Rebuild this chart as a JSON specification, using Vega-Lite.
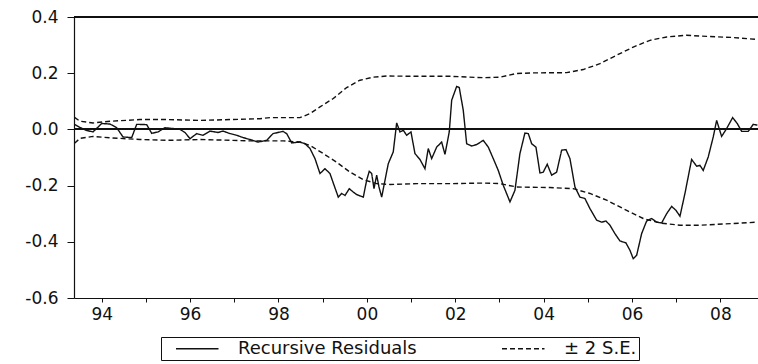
{
  "$schema": "https://vega.github.io/schema/vega-lite/v6.json",
  "width": 684,
  "height": 281,
  "autosize": "none",
  "padding": {"left": 74, "top": 17, "right": 0, "bottom": 66},
  "background": "white",
  "config": {
    "view": {"stroke": null},
    "axis": {
      "domainColor": "#111",
      "tickColor": "#111",
      "labelColor": "#111",
      "labelFont": "DejaVu Sans",
      "labelFontSize": 17,
      "grid": false,
      "title": null,
      "domainWidth": 1.2,
      "tickWidth": 1
    },
    "legend": {
      "labelFont": "DejaVu Sans",
      "labelFontSize": 18,
      "labelColor": "#111",
      "labelLimit": 0
    }
  },
  "data": {
    "values": [
      {"t":1993.385,"v":0.018,"series":"Recursive Residuals","part":"res"},
      {"t":1993.509,"v":0.007,"series":"Recursive Residuals","part":"res"},
      {"t":1993.645,"v":-0.003,"series":"Recursive Residuals","part":"res"},
      {"t":1993.803,"v":-0.009,"series":"Recursive Residuals","part":"res"},
      {"t":1994.000,"v":0.021,"series":"Recursive Residuals","part":"res"},
      {"t":1994.188,"v":0.019,"series":"Recursive Residuals","part":"res"},
      {"t":1994.339,"v":0.006,"series":"Recursive Residuals","part":"res"},
      {"t":1994.482,"v":-0.027,"series":"Recursive Residuals","part":"res"},
      {"t":1994.679,"v":-0.029,"series":"Recursive Residuals","part":"res"},
      {"t":1994.792,"v":0.018,"series":"Recursive Residuals","part":"res"},
      {"t":1995.018,"v":0.017,"series":"Recursive Residuals","part":"res"},
      {"t":1995.131,"v":-0.014,"series":"Recursive Residuals","part":"res"},
      {"t":1995.274,"v":-0.009,"series":"Recursive Residuals","part":"res"},
      {"t":1995.432,"v":0.006,"series":"Recursive Residuals","part":"res"},
      {"t":1995.613,"v":0.003,"series":"Recursive Residuals","part":"res"},
      {"t":1995.771,"v":0.000,"series":"Recursive Residuals","part":"res"},
      {"t":1995.885,"v":-0.011,"series":"Recursive Residuals","part":"res"},
      {"t":1995.998,"v":-0.033,"series":"Recursive Residuals","part":"res"},
      {"t":1996.149,"v":-0.015,"series":"Recursive Residuals","part":"res"},
      {"t":1996.292,"v":-0.021,"series":"Recursive Residuals","part":"res"},
      {"t":1996.450,"v":-0.006,"series":"Recursive Residuals","part":"res"},
      {"t":1996.631,"v":-0.011,"series":"Recursive Residuals","part":"res"},
      {"t":1996.744,"v":-0.006,"series":"Recursive Residuals","part":"res"},
      {"t":1996.903,"v":-0.015,"series":"Recursive Residuals","part":"res"},
      {"t":1997.054,"v":-0.021,"series":"Recursive Residuals","part":"res"},
      {"t":1997.197,"v":-0.029,"series":"Recursive Residuals","part":"res"},
      {"t":1997.355,"v":-0.036,"series":"Recursive Residuals","part":"res"},
      {"t":1997.536,"v":-0.045,"series":"Recursive Residuals","part":"res"},
      {"t":1997.733,"v":-0.039,"series":"Recursive Residuals","part":"res"},
      {"t":1997.876,"v":-0.015,"series":"Recursive Residuals","part":"res"},
      {"t":1998.102,"v":-0.007,"series":"Recursive Residuals","part":"res"},
      {"t":1998.186,"v":-0.015,"series":"Recursive Residuals","part":"res"},
      {"t":1998.299,"v":-0.048,"series":"Recursive Residuals","part":"res"},
      {"t":1998.486,"v":-0.045,"series":"Recursive Residuals","part":"res"},
      {"t":1998.600,"v":-0.051,"series":"Recursive Residuals","part":"res"},
      {"t":1998.713,"v":-0.068,"series":"Recursive Residuals","part":"res"},
      {"t":1998.826,"v":-0.104,"series":"Recursive Residuals","part":"res"},
      {"t":1998.939,"v":-0.157,"series":"Recursive Residuals","part":"res"},
      {"t":1999.052,"v":-0.140,"series":"Recursive Residuals","part":"res"},
      {"t":1999.165,"v":-0.157,"series":"Recursive Residuals","part":"res"},
      {"t":1999.240,"v":-0.191,"series":"Recursive Residuals","part":"res"},
      {"t":1999.353,"v":-0.241,"series":"Recursive Residuals","part":"res"},
      {"t":1999.430,"v":-0.228,"series":"Recursive Residuals","part":"res"},
      {"t":1999.505,"v":-0.235,"series":"Recursive Residuals","part":"res"},
      {"t":1999.602,"v":-0.211,"series":"Recursive Residuals","part":"res"},
      {"t":1999.692,"v":-0.223,"series":"Recursive Residuals","part":"res"},
      {"t":1999.769,"v":-0.232,"series":"Recursive Residuals","part":"res"},
      {"t":1999.919,"v":-0.241,"series":"Recursive Residuals","part":"res"},
      {"t":1999.995,"v":-0.181,"series":"Recursive Residuals","part":"res"},
      {"t":2000.054,"v":-0.149,"series":"Recursive Residuals","part":"res"},
      {"t":2000.109,"v":-0.157,"series":"Recursive Residuals","part":"res"},
      {"t":2000.161,"v":-0.211,"series":"Recursive Residuals","part":"res"},
      {"t":2000.222,"v":-0.163,"series":"Recursive Residuals","part":"res"},
      {"t":2000.274,"v":-0.205,"series":"Recursive Residuals","part":"res"},
      {"t":2000.335,"v":-0.241,"series":"Recursive Residuals","part":"res"},
      {"t":2000.410,"v":-0.181,"series":"Recursive Residuals","part":"res"},
      {"t":2000.484,"v":-0.122,"series":"Recursive Residuals","part":"res"},
      {"t":2000.597,"v":-0.080,"series":"Recursive Residuals","part":"res"},
      {"t":2000.674,"v":0.023,"series":"Recursive Residuals","part":"res"},
      {"t":2000.749,"v":-0.009,"series":"Recursive Residuals","part":"res"},
      {"t":2000.824,"v":-0.003,"series":"Recursive Residuals","part":"res"},
      {"t":2000.900,"v":-0.021,"series":"Recursive Residuals","part":"res"},
      {"t":2000.998,"v":-0.009,"series":"Recursive Residuals","part":"res"},
      {"t":2001.088,"v":-0.086,"series":"Recursive Residuals","part":"res"},
      {"t":2001.201,"v":-0.107,"series":"Recursive Residuals","part":"res"},
      {"t":2001.314,"v":-0.140,"series":"Recursive Residuals","part":"res"},
      {"t":2001.389,"v":-0.068,"series":"Recursive Residuals","part":"res"},
      {"t":2001.466,"v":-0.104,"series":"Recursive Residuals","part":"res"},
      {"t":2001.579,"v":-0.063,"series":"Recursive Residuals","part":"res"},
      {"t":2001.692,"v":-0.045,"series":"Recursive Residuals","part":"res"},
      {"t":2001.767,"v":-0.089,"series":"Recursive Residuals","part":"res"},
      {"t":2001.864,"v":-0.009,"series":"Recursive Residuals","part":"res"},
      {"t":2001.919,"v":0.104,"series":"Recursive Residuals","part":"res"},
      {"t":2002.032,"v":0.153,"series":"Recursive Residuals","part":"res"},
      {"t":2002.090,"v":0.149,"series":"Recursive Residuals","part":"res"},
      {"t":2002.181,"v":0.068,"series":"Recursive Residuals","part":"res"},
      {"t":2002.258,"v":-0.051,"series":"Recursive Residuals","part":"res"},
      {"t":2002.371,"v":-0.059,"series":"Recursive Residuals","part":"res"},
      {"t":2002.484,"v":-0.054,"series":"Recursive Residuals","part":"res"},
      {"t":2002.633,"v":-0.039,"series":"Recursive Residuals","part":"res"},
      {"t":2002.747,"v":-0.063,"series":"Recursive Residuals","part":"res"},
      {"t":2002.860,"v":-0.104,"series":"Recursive Residuals","part":"res"},
      {"t":2002.973,"v":-0.146,"series":"Recursive Residuals","part":"res"},
      {"t":2003.086,"v":-0.199,"series":"Recursive Residuals","part":"res"},
      {"t":2003.238,"v":-0.258,"series":"Recursive Residuals","part":"res"},
      {"t":2003.350,"v":-0.217,"series":"Recursive Residuals","part":"res"},
      {"t":2003.463,"v":-0.086,"series":"Recursive Residuals","part":"res"},
      {"t":2003.576,"v":-0.013,"series":"Recursive Residuals","part":"res"},
      {"t":2003.652,"v":-0.015,"series":"Recursive Residuals","part":"res"},
      {"t":2003.729,"v":-0.051,"series":"Recursive Residuals","part":"res"},
      {"t":2003.826,"v":-0.063,"series":"Recursive Residuals","part":"res"},
      {"t":2003.916,"v":-0.155,"series":"Recursive Residuals","part":"res"},
      {"t":2003.991,"v":-0.152,"series":"Recursive Residuals","part":"res"},
      {"t":2004.081,"v":-0.124,"series":"Recursive Residuals","part":"res"},
      {"t":2004.181,"v":-0.163,"series":"Recursive Residuals","part":"res"},
      {"t":2004.294,"v":-0.152,"series":"Recursive Residuals","part":"res"},
      {"t":2004.407,"v":-0.074,"series":"Recursive Residuals","part":"res"},
      {"t":2004.505,"v":-0.072,"series":"Recursive Residuals","part":"res"},
      {"t":2004.595,"v":-0.104,"series":"Recursive Residuals","part":"res"},
      {"t":2004.708,"v":-0.205,"series":"Recursive Residuals","part":"res"},
      {"t":2004.821,"v":-0.241,"series":"Recursive Residuals","part":"res"},
      {"t":2004.934,"v":-0.246,"series":"Recursive Residuals","part":"res"},
      {"t":2005.048,"v":-0.282,"series":"Recursive Residuals","part":"res"},
      {"t":2005.199,"v":-0.323,"series":"Recursive Residuals","part":"res"},
      {"t":2005.312,"v":-0.330,"series":"Recursive Residuals","part":"res"},
      {"t":2005.410,"v":-0.326,"series":"Recursive Residuals","part":"res"},
      {"t":2005.500,"v":-0.341,"series":"Recursive Residuals","part":"res"},
      {"t":2005.613,"v":-0.371,"series":"Recursive Residuals","part":"res"},
      {"t":2005.726,"v":-0.397,"series":"Recursive Residuals","part":"res"},
      {"t":2005.862,"v":-0.404,"series":"Recursive Residuals","part":"res"},
      {"t":2005.952,"v":-0.430,"series":"Recursive Residuals","part":"res"},
      {"t":2006.027,"v":-0.460,"series":"Recursive Residuals","part":"res"},
      {"t":2006.104,"v":-0.448,"series":"Recursive Residuals","part":"res"},
      {"t":2006.217,"v":-0.371,"series":"Recursive Residuals","part":"res"},
      {"t":2006.330,"v":-0.326,"series":"Recursive Residuals","part":"res"},
      {"t":2006.443,"v":-0.317,"series":"Recursive Residuals","part":"res"},
      {"t":2006.557,"v":-0.330,"series":"Recursive Residuals","part":"res"},
      {"t":2006.670,"v":-0.333,"series":"Recursive Residuals","part":"res"},
      {"t":2006.783,"v":-0.300,"series":"Recursive Residuals","part":"res"},
      {"t":2006.896,"v":-0.274,"series":"Recursive Residuals","part":"res"},
      {"t":2006.993,"v":-0.288,"series":"Recursive Residuals","part":"res"},
      {"t":2007.084,"v":-0.309,"series":"Recursive Residuals","part":"res"},
      {"t":2007.197,"v":-0.228,"series":"Recursive Residuals","part":"res"},
      {"t":2007.348,"v":-0.107,"series":"Recursive Residuals","part":"res"},
      {"t":2007.462,"v":-0.131,"series":"Recursive Residuals","part":"res"},
      {"t":2007.536,"v":-0.128,"series":"Recursive Residuals","part":"res"},
      {"t":2007.611,"v":-0.146,"series":"Recursive Residuals","part":"res"},
      {"t":2007.724,"v":-0.098,"series":"Recursive Residuals","part":"res"},
      {"t":2007.837,"v":-0.027,"series":"Recursive Residuals","part":"res"},
      {"t":2007.914,"v":0.032,"series":"Recursive Residuals","part":"res"},
      {"t":2008.027,"v":-0.025,"series":"Recursive Residuals","part":"res"},
      {"t":2008.140,"v":0.003,"series":"Recursive Residuals","part":"res"},
      {"t":2008.276,"v":0.042,"series":"Recursive Residuals","part":"res"},
      {"t":2008.380,"v":0.021,"series":"Recursive Residuals","part":"res"},
      {"t":2008.480,"v":-0.007,"series":"Recursive Residuals","part":"res"},
      {"t":2008.629,"v":-0.007,"series":"Recursive Residuals","part":"res"},
      {"t":2008.742,"v":0.018,"series":"Recursive Residuals","part":"res"},
      {"t":2008.837,"v":0.015,"series":"Recursive Residuals","part":"res"},
      {"t":1993.385,"v":0.043,"series":"± 2 S.E.","part":"up"},
      {"t":1993.509,"v":0.029,"series":"± 2 S.E.","part":"up"},
      {"t":1993.803,"v":0.023,"series":"± 2 S.E.","part":"up"},
      {"t":1994.188,"v":0.029,"series":"± 2 S.E.","part":"up"},
      {"t":1994.867,"v":0.035,"series":"± 2 S.E.","part":"up"},
      {"t":1995.477,"v":0.035,"series":"± 2 S.E.","part":"up"},
      {"t":1996.224,"v":0.032,"series":"± 2 S.E.","part":"up"},
      {"t":1997.581,"v":0.038,"series":"± 2 S.E.","part":"up"},
      {"t":1997.808,"v":0.042,"series":"± 2 S.E.","part":"up"},
      {"t":1998.486,"v":0.042,"series":"± 2 S.E.","part":"up"},
      {"t":1998.713,"v":0.056,"series":"± 2 S.E.","part":"up"},
      {"t":1998.939,"v":0.080,"series":"± 2 S.E.","part":"up"},
      {"t":1999.240,"v":0.110,"series":"± 2 S.E.","part":"up"},
      {"t":1999.543,"v":0.149,"series":"± 2 S.E.","part":"up"},
      {"t":1999.844,"v":0.175,"series":"± 2 S.E.","part":"up"},
      {"t":2000.145,"v":0.186,"series":"± 2 S.E.","part":"up"},
      {"t":2000.448,"v":0.190,"series":"± 2 S.E.","part":"up"},
      {"t":2001.127,"v":0.189,"series":"± 2 S.E.","part":"up"},
      {"t":2001.880,"v":0.189,"series":"± 2 S.E.","part":"up"},
      {"t":2002.633,"v":0.184,"series":"± 2 S.E.","part":"up"},
      {"t":2003.011,"v":0.186,"series":"± 2 S.E.","part":"up"},
      {"t":2003.389,"v":0.199,"series":"± 2 S.E.","part":"up"},
      {"t":2003.765,"v":0.201,"series":"± 2 S.E.","part":"up"},
      {"t":2004.520,"v":0.202,"series":"± 2 S.E.","part":"up"},
      {"t":2004.896,"v":0.213,"series":"± 2 S.E.","part":"up"},
      {"t":2005.273,"v":0.234,"series":"± 2 S.E.","part":"up"},
      {"t":2005.652,"v":0.264,"series":"± 2 S.E.","part":"up"},
      {"t":2006.027,"v":0.293,"series":"± 2 S.E.","part":"up"},
      {"t":2006.405,"v":0.317,"series":"± 2 S.E.","part":"up"},
      {"t":2006.783,"v":0.329,"series":"± 2 S.E.","part":"up"},
      {"t":2007.235,"v":0.335,"series":"± 2 S.E.","part":"up"},
      {"t":2007.688,"v":0.331,"series":"± 2 S.E.","part":"up"},
      {"t":2008.290,"v":0.327,"series":"± 2 S.E.","part":"up"},
      {"t":2008.837,"v":0.320,"series":"± 2 S.E.","part":"up"},
      {"t":1993.385,"v":-0.049,"series":"± 2 S.E.","part":"lo"},
      {"t":1993.509,"v":-0.032,"series":"± 2 S.E.","part":"lo"},
      {"t":1993.803,"v":-0.025,"series":"± 2 S.E.","part":"lo"},
      {"t":1994.188,"v":-0.030,"series":"± 2 S.E.","part":"lo"},
      {"t":1994.867,"v":-0.036,"series":"± 2 S.E.","part":"lo"},
      {"t":1995.477,"v":-0.039,"series":"± 2 S.E.","part":"lo"},
      {"t":1996.224,"v":-0.036,"series":"± 2 S.E.","part":"lo"},
      {"t":1996.971,"v":-0.039,"series":"± 2 S.E.","part":"lo"},
      {"t":1997.355,"v":-0.041,"series":"± 2 S.E.","part":"lo"},
      {"t":1998.109,"v":-0.041,"series":"± 2 S.E.","part":"lo"},
      {"t":1998.486,"v":-0.045,"series":"± 2 S.E.","part":"lo"},
      {"t":1998.713,"v":-0.057,"series":"± 2 S.E.","part":"lo"},
      {"t":1999.014,"v":-0.086,"series":"± 2 S.E.","part":"lo"},
      {"t":1999.317,"v":-0.117,"series":"± 2 S.E.","part":"lo"},
      {"t":1999.618,"v":-0.152,"series":"± 2 S.E.","part":"lo"},
      {"t":1999.919,"v":-0.179,"series":"± 2 S.E.","part":"lo"},
      {"t":2000.222,"v":-0.193,"series":"± 2 S.E.","part":"lo"},
      {"t":2000.523,"v":-0.196,"series":"± 2 S.E.","part":"lo"},
      {"t":2001.127,"v":-0.193,"series":"± 2 S.E.","part":"lo"},
      {"t":2001.880,"v":-0.193,"series":"± 2 S.E.","part":"lo"},
      {"t":2002.633,"v":-0.191,"series":"± 2 S.E.","part":"lo"},
      {"t":2003.011,"v":-0.193,"series":"± 2 S.E.","part":"lo"},
      {"t":2003.389,"v":-0.205,"series":"± 2 S.E.","part":"lo"},
      {"t":2004.136,"v":-0.207,"series":"± 2 S.E.","part":"lo"},
      {"t":2004.670,"v":-0.211,"series":"± 2 S.E.","part":"lo"},
      {"t":2005.048,"v":-0.228,"series":"± 2 S.E.","part":"lo"},
      {"t":2005.425,"v":-0.252,"series":"± 2 S.E.","part":"lo"},
      {"t":2005.878,"v":-0.288,"series":"± 2 S.E.","part":"lo"},
      {"t":2006.253,"v":-0.317,"series":"± 2 S.E.","part":"lo"},
      {"t":2006.631,"v":-0.333,"series":"± 2 S.E.","part":"lo"},
      {"t":2007.084,"v":-0.341,"series":"± 2 S.E.","part":"lo"},
      {"t":2007.537,"v":-0.341,"series":"± 2 S.E.","part":"lo"},
      {"t":2008.290,"v":-0.335,"series":"± 2 S.E.","part":"lo"},
      {"t":2008.837,"v":-0.330,"series":"± 2 S.E.","part":"lo"}
    ]
  },
  "layer": [
    {
      "mark": {"type": "rule", "color": "#111", "strokeWidth": 1.2},
      "encoding": {"y": {"datum": 0.4, "type": "quantitative"}}
    },
    {
      "mark": {"type": "rule", "color": "#111", "strokeWidth": 1.2},
      "encoding": {"y": {"datum": 0, "type": "quantitative"}}
    },
    {
      "mark": {"type": "line", "color": "#111", "strokeWidth": 1.4, "clip": true},
      "encoding": {
        "x": {
          "field": "t",
          "type": "quantitative",
          "scale": {"domain": [1993.373, 2008.85], "nice": false, "zero": false},
          "axis": {
            "values": [1994, 1995, 1996, 1997, 1998, 1999, 2000, 2001, 2002, 2003, 2004, 2005, 2006, 2007, 2008],
            "labelExpr": "datum.value % 2 == 0 ? substring(toString(datum.value), 2, 4) : ''",
            "tickSize": 4,
            "labelPadding": 4,
            "labelFlush": false,
            "labelOverlap": false
          }
        },
        "y": {
          "field": "v",
          "type": "quantitative",
          "scale": {"domain": [-0.6, 0.4], "nice": false, "zero": false},
          "axis": {
            "values": [-0.6, -0.4, -0.2, 0, 0.2, 0.4],
            "labelExpr": "(datum.value < -0.0001 ? '-' : '') + format(abs(datum.value), '.1f')",
            "tickSize": 7,
            "labelPadding": 9,
            "labelFlush": false
          }
        },
        "strokeDash": {
          "field": "series",
          "type": "nominal",
          "scale": {"domain": ["Recursive Residuals", "± 2 S.E."], "range": [[1, 0], [5, 3]]},
          "legend": {
            "title": null,
            "orient": "none",
            "legendX": 87,
            "legendY": 320,
            "direction": "horizontal",
            "strokeColor": "#111",
            "fillColor": "white",
            "padding": 2,
            "symbolType": "M-1,0H4",
            "symbolSize": 289,
            "symbolStrokeColor": "#111",
            "symbolStrokeWidth": 1.3,
            "symbolOffset": 12,
            "labelOffset": 44,
            "labelLimit": 0,
            "columnPadding": 72
          }
        },
        "detail": {"field": "part", "type": "nominal"}
      }
    }
  ]
}
